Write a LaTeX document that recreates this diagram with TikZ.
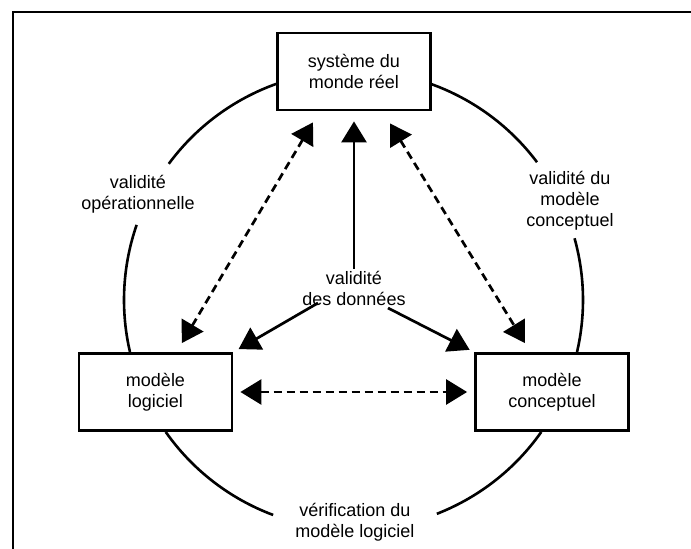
\documentclass[tikz,border=0pt]{standalone}
\usepackage{fontspec}
\setmainfont{Liberation Sans}
\usetikzlibrary{arrows.meta}
\begin{document}
\begin{tikzpicture}[x=1pt,y=1pt,
  txt/.style={font=\fontsize{18}{21}\selectfont, align=center},
  box/.style={txt, draw, line width=2.8pt, fill=white, minimum width=153pt, minimum height=77pt, inner sep=0pt},
  lbl/.style={txt, inner sep=2pt},
  ring/.style={line width=2.6pt},
  link/.style={line width=2.7pt, -{Triangle[length=21pt,width=25pt]}},
  twoway/.style={line width=2.7pt, dash pattern=on 8pt off 5pt,
    {Triangle[length=21pt,width=25pt]}-{Triangle[length=21pt,width=25pt]}}
]
\useasboundingbox (0,0) rectangle (691,549);
% frame
\draw[line width=2pt] (13,0) -- (13,537) -- (691,537);

% the cycle, interrupted by the labels
\coordinate (c) at (353.5,249);
\def\R{229.5}
\draw[ring] (c) ++(109.7:\R) arc[start angle=109.7, end angle=143.6, radius=\R];
\draw[ring] (c) ++(160.9:\R) arc[start angle=160.9, end angle=193.1, radius=\R];
\draw[ring] (c) ++(215.1:\R) arc[start angle=215.1, end angle=249.5, radius=\R];
\draw[ring] (c) ++(291.3:\R) arc[start angle=291.3, end angle=324.9, radius=\R];
\draw[ring] (c) ++(-13.1:\R) arc[start angle=-13.1, end angle=15.6, radius=\R];
\draw[ring] (c) ++(36.9:\R) arc[start angle=36.9, end angle=70.3, radius=\R];

% boxes
\node[box] (top)  at (354,477.5) {système du\\monde réel};
\node[box] (lbox) at (155.5,157) {modèle\\logiciel};
\node[box] (rbox) at (552,157)   {modèle\\conceptuel};

% labels
\node[lbl] (vop) at (138,355) {validité\\opérationnelle};
\node[lbl] (vmc) at (570,348) {validité du\\modèle\\conceptuel};
\node[lbl] (vdd) at (354,261) {validité\\des données};
\node[lbl] (vml) at (355,27)  {vérification du\\modèle logiciel};

% data validity arrows
\coordinate (vddL) at (318,246);
\coordinate (vddR) at (388,241);
\draw[link, shorten >=10pt] (vdd.north) -- (top.south);
\draw[link, shorten >=6pt] (vddL) -- (lbox.north east);
\draw[link, shorten >=5pt] (vddR) -- (rbox.north west);

% two-way dashed arrows
\draw[twoway, shorten <=12.8pt, shorten >=10.5pt] ([xshift=-34.5pt]top.south) -- ([xshift=21pt]lbox.north);
\draw[twoway, shorten <=14.1pt, shorten >=10.6pt] ([xshift=28.6pt]top.south) -- ([xshift=-21.5pt]rbox.north);
\draw[twoway, shorten <=7pt, shorten >=7pt] (lbox.east) -- (rbox.west);
\end{tikzpicture}
\end{document}
